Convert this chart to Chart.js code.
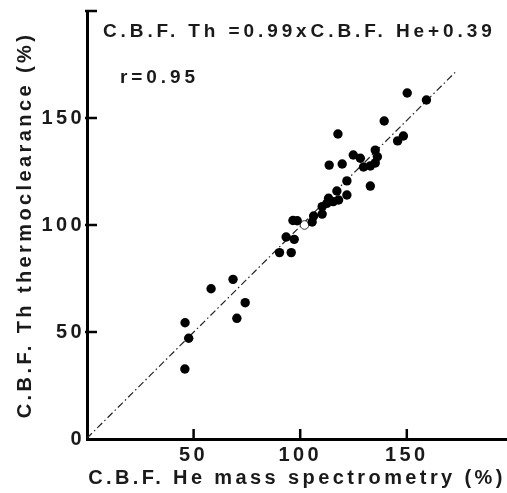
<!DOCTYPE html>
<html>
<head>
<meta charset="utf-8">
<script src="https://cdn.jsdelivr.net/npm/chart.js@4"></script>
<style>
    html, body { margin: 0; padding: 0; background: #fff; overflow: hidden; }
</style>
</head>
<body>
<canvas id="cbfChart" width="507" height="493"></canvas>
<script>
// C.B.F. He mass spectrometry (x) vs C.B.F. Th thermoclearance (y), in %
const heValues = [46, 47.7, 45.9, 58.2, 68.5, 74.2, 70.3, 90.3, 95.8, 93.4, 97.2, 96.6, 98.6, 105.6, 106.3, 110.3, 110.3, 112.5, 115.5, 118, 113.3, 117.2, 121.9, 121.9, 132.9, 113.6, 119.7, 117.7, 124.9, 128.2, 129.7, 132.9, 135.2, 136.2, 139.4, 145.7, 148.4, 150.2, 159.2, 135.2];
const thValues = [54.3, 47.1, 32.7, 70.2, 74.6, 63.7, 56.4, 87.1, 87.1, 94.4, 93.3, 102.1, 102, 101.4, 104.2, 105.1, 108.6, 110.1, 110.9, 111.7, 112.5, 115.9, 114, 120.6, 118.2, 128, 128.5, 142.5, 132.7, 131.2, 127.1, 127.6, 135, 131.9, 148.6, 139.3, 141.6, 161.7, 158.4, 129];
const meanPoint = [102, 100];
const slope = 0.99;
const intercept = 0.39;
const fitRange = [0, 173];
const xTicks = [50, 100, 150];
const yTicks = [0, 50, 100, 150, 200];
const equationText = "C.B.F. Th =0.99xC.B.F. He+0.39";
const rText = "r=0.95";

const textFont = "'Liberation Sans', Arial, sans-serif";
const ink = '#1a1a1a';

const points = heValues.map((x, i) => ({ x: x, y: thValues[i] }));
const fitLine = fitRange.map(x => ({ x: x, y: slope * x + intercept }));

// wide lettering like the original figure
const spacing = {
    id: 'spacing',
    beforeDraw(chart) {
        chart.ctx.letterSpacing = '3.4px';
    }
};

// ticks pointing into the plot, plus the bracket at the top
const innerTicks = {
    id: 'innerTicks',
    afterDraw(chart) {
        const { ctx } = chart;
        const x = chart.scales.x, y = chart.scales.y;
        ctx.save();
        ctx.strokeStyle = '#000';
        ctx.lineWidth = 2.5;
        yTicks.forEach(v => {
            if (v === 0) return;
            const py = y.getPixelForValue(v);
            ctx.beginPath();
            ctx.moveTo(x.left - 2, py);
            ctx.lineTo(x.left + 10, py);
            ctx.stroke();
        });
        xTicks.forEach(v => {
            const px = x.getPixelForValue(v);
            ctx.beginPath();
            ctx.moveTo(px, y.bottom + 1);
            ctx.lineTo(px, y.bottom - 10);
            ctx.stroke();
        });
        ctx.restore();
    }
};

const equation = {
    id: 'equation',
    afterDraw(chart) {
        const { ctx, chartArea } = chart;
        ctx.save();
        ctx.letterSpacing = '3.9px';
        ctx.font = 'bold 19px ' + textFont;
        ctx.fillStyle = ink;
        ctx.textBaseline = 'middle';
        ctx.textAlign = 'left';
        ctx.fillText(equationText, chartArea.left + 16, 32);
        ctx.fillText(rText, chartArea.left + 33, 78);
        ctx.restore();
    }
};

const ctx = document.getElementById('cbfChart').getContext('2d');
const cbfChart = new Chart(ctx, {
    type: 'scatter',
    data: {
        datasets: [
            {
                data: points,
                pointRadius: 4.7,
                pointBackgroundColor: '#000',
                pointBorderWidth: 0
            },
            {
                data: [{ x: meanPoint[0], y: meanPoint[1] }],
                pointRadius: 4.3,
                pointBackgroundColor: '#fff',
                pointBorderColor: '#333',
                pointBorderWidth: 1
            },
            {
                data: fitLine,
                showLine: true,
                pointRadius: 0,
                borderColor: '#222',
                borderWidth: 1.2,
                borderDash: [7, 3, 1.5, 3]
            }
        ]
    },
    options: {
        responsive: false,
        animation: false,
        layout: {
            autoPadding: false,
            padding: { top: 11, right: 0, left: 0, bottom: 0 }
        },
        plugins: {
            legend: { display: false },
            tooltip: { enabled: false }
        },
        scales: {
            x: {
                type: 'linear',
                min: 0,
                max: 197,
                afterBuildTicks: scale => { scale.ticks = xTicks.map(v => ({ value: v })); },
                afterFit: scale => {
                    scale.height = 54;
                    scale.paddingLeft = 0;
                    scale.paddingRight = 0;
                },
                grid: { drawOnChartArea: false, drawTicks: false },
                border: { display: true, color: '#000', width: 3 },
                ticks: {
                    color: ink,
                    padding: 4,
                    maxRotation: 0,
                    font: { family: textFont, size: 20, weight: 'bold' }
                },
                title: {
                    display: true,
                    text: 'C.B.F. He mass spectrometry (%)',
                    color: ink,
                    font: { family: textFont, size: 20, weight: 'bold' },
                    padding: { top: 0, bottom: 3 }
                }
            },
            y: {
                min: 0,
                max: 200,
                afterBuildTicks: scale => { scale.ticks = yTicks.map(v => ({ value: v })); },
                afterFit: scale => {
                    scale.width = 87;
                    scale.paddingTop = 0;
                    scale.paddingBottom = 0;
                },
                grid: { drawOnChartArea: false, drawTicks: false },
                border: { display: true, color: '#000', width: 3 },
                ticks: {
                    color: ink,
                    padding: 2,
                    font: { family: textFont, size: 20, weight: 'bold' },
                    callback: v => (v === 200 ? '' : v)
                },
                title: {
                    display: true,
                    text: 'C.B.F. Th thermoclearance (%)',
                    color: ink,
                    font: { family: textFont, size: 20, weight: 'bold' },
                    padding: { top: 13, bottom: 0 }
                }
            }
        }
    },
    plugins: [spacing, innerTicks, equation]
});
</script>
</body>
</html>
